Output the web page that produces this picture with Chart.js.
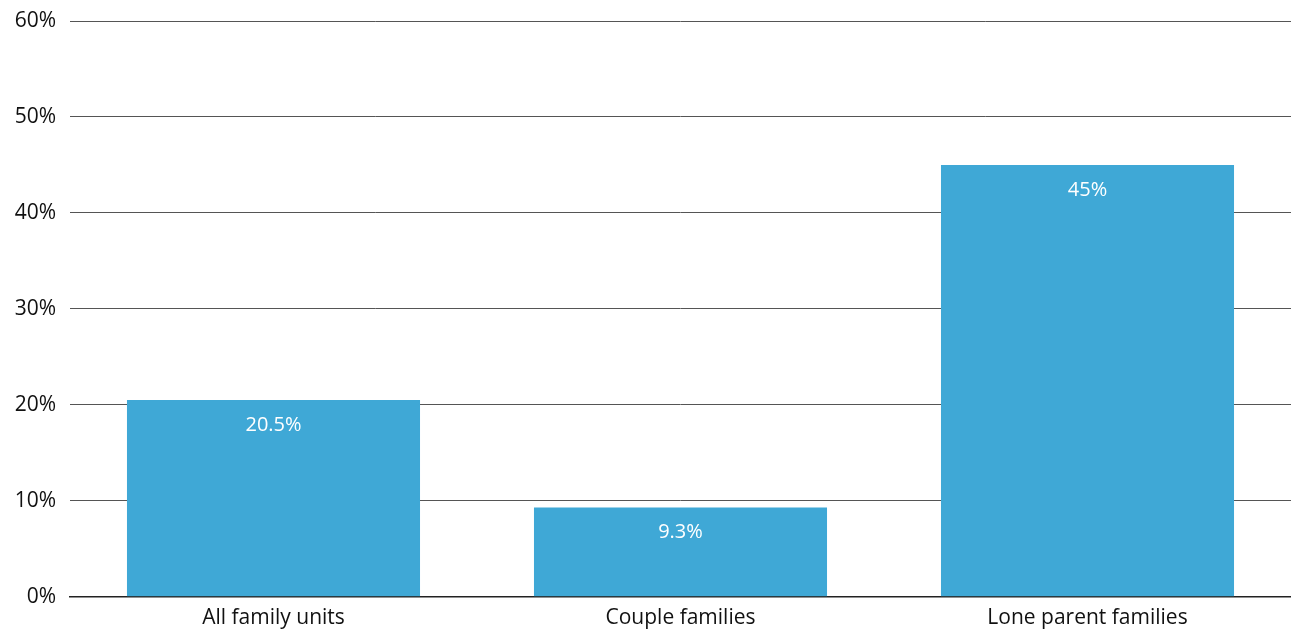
<!DOCTYPE html>
<html>
<head>
<meta charset="utf-8">
<script src="https://cdn.jsdelivr.net/npm/chart.js@4/dist/chart.umd.min.js"></script>
<style>
  html, body { margin: 0; padding: 0; background: #fff; }
  #wrap { width: 1291px; height: 632px; }
</style>
</head>
<body>
<div id="wrap"><canvas id="familyChart"></canvas></div>
<script>
const categories = ['All family units', 'Couple families', 'Lone parent families'];
const shares = [20.5, 9.3, 45];
const yTicks = [0, 10, 20, 30, 40, 50, 60];

const FONT = "'Open Sans', 'Noto Sans', sans-serif";

// white value text just inside the top of each bar
const barValues = {
    id: 'barValues',
    afterDatasetsDraw(chart) {
        const ctx = chart.ctx;
        const meta = chart.getDatasetMeta(0);
        ctx.save();
        ctx.fillStyle = '#ffffff';
        ctx.font = '20px ' + FONT;
        ctx.textAlign = 'center';
        ctx.textBaseline = 'middle';
        meta.data.forEach((bar, i) => {
            ctx.fillText(shares[i] + '%', bar.x, bar.y + 25);
        });
        ctx.restore();
    }
};

function createChart() {
    const ctx = document.getElementById('familyChart').getContext('2d');
    new Chart(ctx, {
        type: 'bar',
        data: {
            labels: categories,
            datasets: [{
                data: shares,
                backgroundColor: '#3fa8d6',
                borderWidth: 0
            }]
        },
        options: {
            responsive: true,
            maintainAspectRatio: false,
            animation: false,
            layout: { padding: { top: 21, right: 0, left: 0, bottom: -8 } },
            plugins: {
                legend: { display: false },
                tooltip: { enabled: false }
            },
            scales: {
                x: {
                    grid: { display: false, drawTicks: false },
                    border: { color: '#222', width: 1.5 },
                    ticks: {
                        color: '#111',
                        font: { family: FONT, size: 21 },
                        padding: 9
                    }
                },
                y: {
                    min: 0,
                    max: 60,
                    afterBuildTicks(axis) {
                        axis.ticks = yTicks.map(v => ({ value: v }));
                    },
                    afterFit(axis) {
                        // fixed gutter; label overflow handled by layout padding
                        axis.width = 70;
                        axis.paddingTop = 0;
                        axis.paddingBottom = 0;
                    },
                    grid: { color: '#555', lineWidth: 1, drawTicks: false },
                    border: { display: false },
                    ticks: {
                        color: '#111',
                        font: { family: FONT, size: 21 },
                        padding: 14,
                        callback: v => v + '%'
                    }
                }
            }
        },
        plugins: [barValues]
    });
}

document.addEventListener('DOMContentLoaded', createChart);
</script>
</body>
</html>
